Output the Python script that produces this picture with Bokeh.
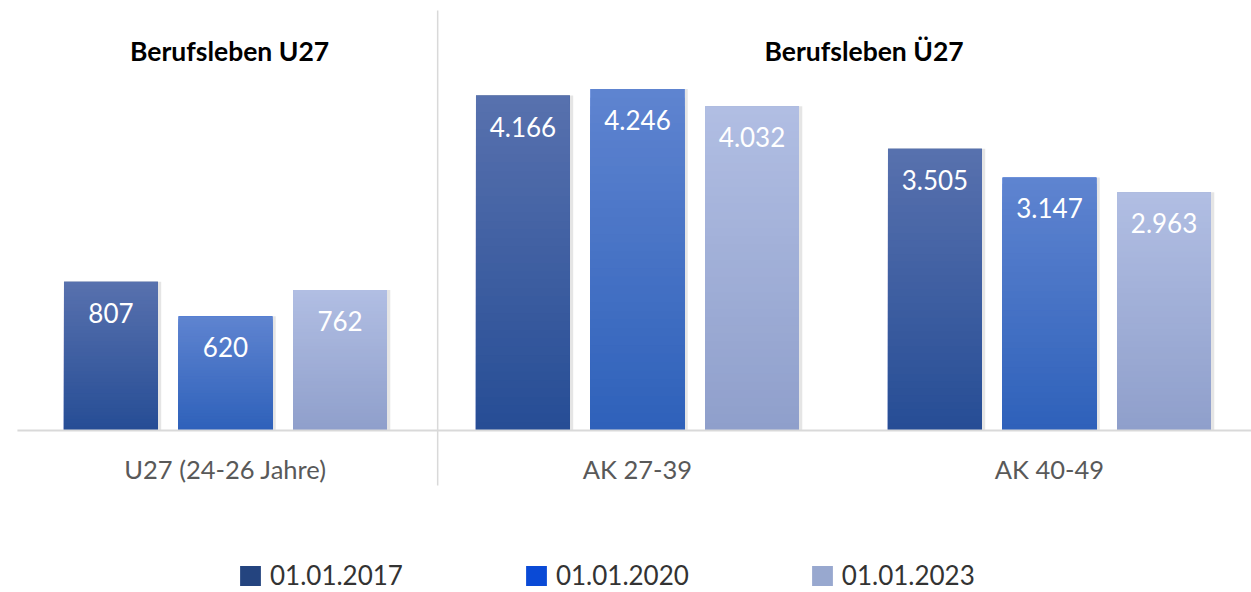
import numpy as np
from bokeh.plotting import figure
from bokeh.models import Range1d, ColumnDataSource, Legend, LegendItem
from bokeh.core.properties import value
from bokeh.embed import file_html
from bokeh.resources import INLINE

# ---------------- data ----------------
groups = ["U27 (24-26 Jahre)", "AK 27-39", "AK 40-49"]
series = ["01.01.2017", "01.01.2020", "01.01.2023"]
v2017 = [807, 4166, 3505]
v2020 = [620, 4246, 3147]
v2023 = [762, 4032, 2963]
panel_titles = ["Berufsleben U27", "Berufsleben Ü27"]
values = [v2017, v2020, v2023]

# ---------------- style ----------------
top_colors = ["#5871AE", "#5F84D0", "#B1BEE3"]
bottom_colors = ["#264D95", "#2E61BA", "#8F9FCB"]
legend_colors = ["#24447F", "#0A4AD6", "#98A8CF"]
FONT = "Lato"
BAR_W = 0.228
OFFSET = 0.278
N_SLICES = 40


def hex2rgb(h):
    h = h.lstrip("#")
    return np.array([int(h[i:i + 2], 16) for i in (0, 2, 4)], dtype=float)


def mix(c0, c1, t):
    a, b = hex2rgb(c0), hex2rgb(c1)
    c = a + (b - a) * t
    return "#%02x%02x%02x" % tuple(int(round(v)) for v in c)


def fmt(v):
    return f"{v:,}".replace(",", ".")


p = figure(width=1251, height=592, output_backend="svg", toolbar_location=None,
           x_range=Range1d(-0.5461, 2.4903), y_range=Range1d(-2015, 5348),
           x_axis_location=None, y_axis_location=None,
           min_border=0, min_border_left=0, min_border_right=0,
           min_border_top=0, min_border_bottom=0)
p.extra_y_ranges = {"u27": Range1d(-878, 2331)}
p.grid.visible = False
p.outline_line_color = None
p.background_fill_color = "white"
p.border_fill_color = "white"

panels = [("u27", [0]), ("default", [1, 2])]
legend_renderers = {}

for rname, gidx in panels:
    for si, s in enumerate(series):
        xs = [g + (si - 1) * OFFSET for g in gidx]
        vals = [values[si][g] for g in gidx]
        # shadow
        p.vbar(x=[x + 0.006 for x in xs], top=vals, bottom=0, width=BAR_W + 0.004,
               fill_color="black", fill_alpha=0.10, line_color=None, y_range_name=rname)
        # base bar (legend reference)
        base = p.vbar(x=xs, top=vals, bottom=0, width=BAR_W, fill_color=legend_colors[si],
                      line_color=None, y_range_name=rname)
        if rname == "default":
            legend_renderers[s] = base
        # vertical gradient via overlapping bars (largest first)
        sx, stop, scol = [], [], []
        for k in range(N_SLICES - 1, -1, -1):
            t = (k + 0.5) / N_SLICES
            col = mix(bottom_colors[si], top_colors[si], t)
            for x, v in zip(xs, vals):
                sx.append(x)
                stop.append(v * (k + 1) / N_SLICES)
                scol.append(col)
        p.vbar(x="x", top="top", bottom=0, width=BAR_W, fill_color="c", line_color=None,
               source=ColumnDataSource(dict(x=sx, top=stop, c=scol)), y_range_name=rname)
        # value labels
        p.text(x=xs, y=vals, text=[fmt(v) for v in vals], text_color="white",
               text_font=value(FONT), text_font_size="26px", text_align="center",
               text_baseline="alphabetic", y_offset=31, y_range_name=rname)

# baseline and panel separator
p.segment(x0=[-0.505], y0=[0], x1=[2.4903], y1=[0], line_color="#D9D9D9", line_width=2)
p.segment(x0=[0.515], y0=[-684], x1=[0.515], y1=[5224], line_color="#D9D9D9", line_width=1.5)

# category labels
p.text(x=[0, 1, 2], y=[-473] * 3, text=groups, text_color="#595959",
       text_font=value(FONT), text_font_size="25.5px", text_align="center",
       text_baseline="alphabetic")

# panel titles
p.text(x=[0.01, 1.55], y=[4714] * 2, text=panel_titles, text_color="black",
       text_font=value(FONT), text_font_style="bold", text_font_size="26.5px",
       text_align="center", text_baseline="alphabetic")

legend = Legend(items=[LegendItem(label=s, renderers=[legend_renderers[s]]) for s in series],
                orientation="horizontal", location=(237, 1), spacing=120,
                glyph_width=26, glyph_height=25, label_standoff=7,
                label_text_font=FONT, label_text_font_size="26px", label_text_color="#333333",
                padding=0, margin=0, border_line_color=None, background_fill_alpha=0)
p.add_layout(legend)

open("out.html", "w").write(file_html(p, INLINE))
